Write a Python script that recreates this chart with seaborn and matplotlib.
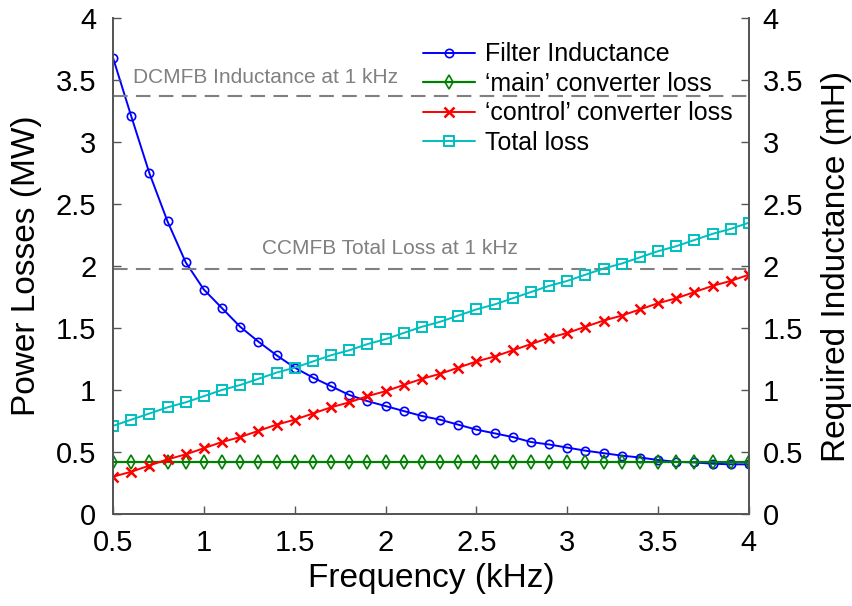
import numpy as np
import pandas as pd
import matplotlib
matplotlib.use("Agg")
import matplotlib.pyplot as plt
import seaborn as sns

# -----------------------
# Data
# -----------------------

freq = [0.5, 0.6, 0.7, 0.8, 0.9, 1.0, 1.1, 1.2, 1.3, 1.4, 1.5, 1.6,
        1.7, 1.8, 1.9, 2.0, 2.1, 2.2, 2.3, 2.4, 2.5, 2.6, 2.7, 2.8,
        2.9, 3.0, 3.1, 3.2, 3.3, 3.4, 3.5, 3.6, 3.7, 3.8, 3.9, 4.0]

inductance = [3.68, 3.21, 2.75, 2.36, 2.03, 1.81, 1.66, 1.51, 1.39, 1.28,
              1.18, 1.10, 1.03, 0.96, 0.91, 0.87, 0.83, 0.79, 0.76, 0.72,
              0.68, 0.65, 0.62, 0.58, 0.56, 0.535, 0.51, 0.49, 0.47, 0.455,
              0.435, 0.42, 0.415, 0.405, 0.40, 0.40]

main_loss = [0.42] * 36

control_loss = [0.30, 0.34, 0.39, 0.44, 0.48, 0.53, 0.58, 0.62, 0.67, 0.72,
                0.76, 0.81, 0.86, 0.90, 0.95, 0.99, 1.04, 1.09, 1.13, 1.18,
                1.23, 1.27, 1.32, 1.37, 1.42, 1.46, 1.51, 1.56, 1.60, 1.65,
                1.70, 1.74, 1.79, 1.84, 1.88, 1.93]

total_loss = [0.71, 0.76, 0.81, 0.86, 0.90, 0.95, 1.00, 1.04, 1.09, 1.14,
              1.18, 1.23, 1.28, 1.32, 1.37, 1.41, 1.46, 1.51, 1.55, 1.60,
              1.65, 1.69, 1.74, 1.79, 1.84, 1.88, 1.93, 1.98, 2.02, 2.07,
              2.12, 2.16, 2.21, 2.26, 2.30, 2.35]

dcmfb_inductance = 3.37
ccmfb_total = 1.98

x_ticks = [0.5, 1, 1.5, 2, 2.5, 3, 3.5, 4]
x_ticklabels = ["0.5", "1", "1.5", "2", "2.5", "3", "3.5", "4"]
y_ticks = [0, 0.5, 1, 1.5, 2, 2.5, 3, 3.5, 4]
y_ticklabels = ["0", "0.5", "1", "1.5", "2", "2.5", "3", "3.5", "4"]

df = pd.DataFrame({
    "freq": freq,
    "inductance": inductance,
    "main": main_loss,
    "control": control_loss,
    "total": total_loss,
})

# -----------------------
# Style
# -----------------------

sns.set_theme(style="ticks")
plt.rcParams["font.family"] = ["Liberation Sans", "DejaVu Sans"]
plt.rcParams["text.color"] = "black"
plt.rcParams["axes.labelcolor"] = "black"
plt.rcParams["axes.edgecolor"] = "#555555"
plt.rcParams["xtick.direction"] = "in"
plt.rcParams["ytick.direction"] = "in"

fig = plt.figure(figsize=(8.53, 6.06), dpi=100)
ax1 = fig.add_axes([0.1325, 0.152, 0.7455, 0.818])
ax2 = ax1.twinx()

# keep the loss axis on top, like the original
ax1.set_zorder(ax2.get_zorder() + 1)
ax1.patch.set_visible(False)

# -----------------------
# Lines
# -----------------------

sns.lineplot(data=df, x="freq", y="inductance", ax=ax2, color="#0000FF",
             marker="o", markersize=6, markerfacecolor="none",
             markeredgecolor="#0000FF", markeredgewidth=1.2, linewidth=1.4,
             label="Filter Inductance")

sns.lineplot(data=df, x="freq", y="main", ax=ax1, color="#008000",
             marker="d", markersize=7, markerfacecolor="none",
             markeredgecolor="#008000", markeredgewidth=1.2, linewidth=1.6,
             label="\u2018main\u2019 converter loss")

sns.lineplot(data=df, x="freq", y="control", ax=ax1, color="#FF0000",
             marker="x", markersize=7.5, markeredgecolor="#FF0000",
             markeredgewidth=1.8, linewidth=1.4,
             label="\u2018control\u2019 converter loss")

sns.lineplot(data=df, x="freq", y="total", ax=ax1, color="#00BFBF",
             marker="s", markersize=7, markerfacecolor="none",
             markeredgecolor="#00BFBF", markeredgewidth=1.4, linewidth=1.4,
             label="Total loss")

# Reference lines

ax1.axhline(dcmfb_inductance, color="#808080", linestyle=(0, (7, 4)),
            linewidth=1.5, zorder=1)
ax1.axhline(ccmfb_total, color="#808080", linestyle=(0, (7, 4)),
            linewidth=1.5, zorder=1)

ax1.text(0.61, 3.52, "DCMFB Inductance at 1 kHz", color="#808080",
         fontsize=15, va="center", ha="left")
ax1.text(1.32, 2.145, "CCMFB Total Loss at 1 kHz", color="#808080",
         fontsize=15, va="center", ha="left")

# -----------------------
# Axes
# -----------------------

for ax in (ax1, ax2):
    ax.set_xlim(0.5, 4)
    ax.set_ylim(0, 4)
    ax.set_yticks(y_ticks)
    ax.set_yticklabels(y_ticklabels)
    ax.tick_params(labelsize=21, length=6, width=1, color="#555555",
                   labelcolor="black")
    ax.spines["top"].set_visible(False)

ax1.set_xticks(x_ticks)
ax1.set_xticklabels(x_ticklabels)
ax1.tick_params(axis="x", pad=11)
ax1.tick_params(axis="y", pad=12)
ax2.tick_params(axis="y", pad=10)

ax1.set_xlabel("Frequency (kHz)", fontsize=24, labelpad=4)
ax1.set_ylabel("Power Losses (MW)", fontsize=24, labelpad=10)
ax2.set_ylabel("Required Inductance (mH)", fontsize=24, labelpad=13)
ax2.set_xlabel("")

# Combined legend

ax2.get_legend().remove()
h2, l2 = ax2.get_legend_handles_labels()
h1, l1 = ax1.get_legend_handles_labels()
ax1.legend(h2 + h1, l2 + l1, loc="upper left",
           bbox_to_anchor=(0.487, 0.951), borderaxespad=0, borderpad=0,
           frameon=False, fontsize=18, handlelength=2.1, handletextpad=0.4,
           labelspacing=0.22, labelcolor="black")

fig.savefig("out.png", dpi=100)
